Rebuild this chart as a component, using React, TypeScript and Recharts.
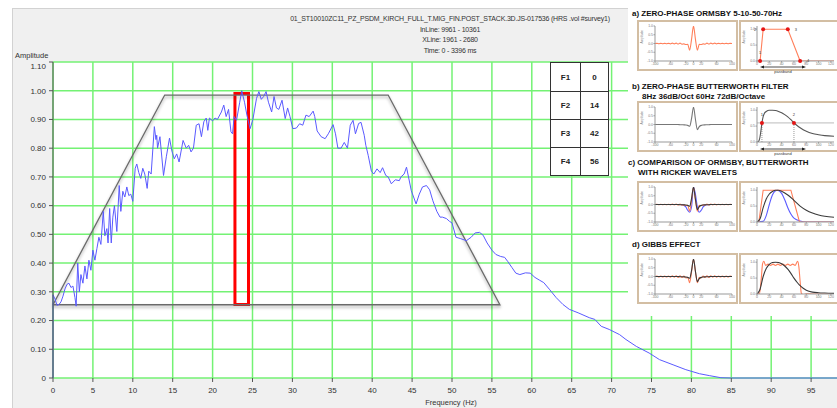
import React from "react";
import { LineChart, Line, XAxis, YAxis, CartesianGrid, ReferenceArea, ReferenceLine, ReferenceDot } from "recharts";

// amplitude spectrum (Hz / amplitude)
const freq = [
  0, 0, 0.25, 0.5, 0.75, 1, 1.25, 1.5, 1.75, 2,
  2.25, 2.5, 2.75, 2.9, 3.1, 3.3, 3.5, 3.75, 4, 4.25,
  4.5, 4.75, 5, 5.25, 5.5, 5.75, 6, 6.3, 6.5, 6.75,
  6.9, 7.1, 7.3, 7.5, 7.7, 8, 8.3, 8.5, 8.75, 9,
  9.25, 9.5, 9.75, 10, 10.3, 10.5, 10.75, 11, 11.25, 11.5,
  11.8, 12, 12.3, 12.7, 12.9, 13, 13.1, 13.4, 13.85, 14.2,
  14.6, 14.9, 15.2, 15.5, 15.8, 16.3, 16.7, 17, 17.3, 17.6,
  17.95, 18.3, 18.6, 18.9, 19.2, 19.4, 19.6, 20, 20.3, 20.6,
  21.1, 21.4, 21.7, 22, 22.3, 22.5, 22.7, 23, 23.4, 23.65,
  24, 24.3, 24.7, 25.05, 25.5, 25.8, 26.1, 26.4, 26.7, 27,
  27.4, 27.7, 28, 28.3, 28.7, 29.1, 29.4, 29.7, 30.05, 30.5,
  30.9, 31.3, 31.7, 32.1, 32.6, 32.8, 33.1, 33.6, 34.1, 34.5,
  35.1, 35.4, 35.7, 36.1, 36.5, 36.9, 37.25, 37.6, 37.9, 38.3,
  38.6, 39, 39.2, 39.5, 39.9, 40.2, 40.6, 41, 41.3, 41.7,
  42, 42.4, 42.9, 43.4, 43.6, 44, 44.3, 44.9, 45.5, 45.9,
  46.3, 46.8, 47.2, 47.6, 48.1, 48.5, 48.8, 49.3, 49.7, 50,
  50.5, 51.1, 51.8, 52.4, 52.9, 53.45, 53.9, 54.4, 55, 55.5,
  56.1, 56.6, 57, 57.5, 58, 58.5, 59.2, 59.8, 60.4, 61,
  61.5, 62.2, 63.05, 63.9, 64.7, 65.8, 67.2, 67.9, 68.7, 69.7,
  71, 71.8, 73.1, 74.7, 76, 77.7, 79.3, 81, 82.3, 83.7,
  85, 100,
];
const amp = [
  0, 0.29, 0.275, 0.253, 0.256, 0.265, 0.285, 0.31, 0.326, 0.33,
  0.315, 0.32, 0.28, 0.25, 0.4, 0.3, 0.36, 0.33, 0.39, 0.345,
  0.41, 0.375, 0.445, 0.41, 0.45, 0.49, 0.465, 0.58, 0.495, 0.52,
  0.47, 0.59, 0.47, 0.56, 0.6, 0.51, 0.67, 0.58, 0.65, 0.63,
  0.665, 0.635, 0.64, 0.615, 0.73, 0.745, 0.715, 0.695, 0.73, 0.71,
  0.66, 0.72, 0.71, 0.875, 0.83, 0.845, 0.8, 0.84, 0.705, 0.77,
  0.835, 0.79, 0.763, 0.78, 0.752, 0.827, 0.8, 0.81, 0.787, 0.8,
  0.88, 0.885, 0.84, 0.892, 0.905, 0.862, 0.905, 0.895, 0.905, 0.9,
  0.926, 0.95, 0.91, 0.935, 0.857, 0.85, 0.91, 0.897, 0.96, 1.0,
  0.96, 0.915, 0.868, 0.9, 0.973, 0.997, 0.97, 0.98, 0.997, 0.96,
  0.926, 0.98, 0.94, 0.935, 0.967, 0.903, 0.94, 0.91, 0.868, 0.87,
  0.885, 0.88, 0.915, 0.91, 0.929, 0.91, 0.86, 0.84, 0.833, 0.85,
  0.882, 0.85, 0.8, 0.8, 0.82, 0.8, 0.88, 0.897, 0.85, 0.886,
  0.89, 0.845, 0.81, 0.775, 0.72, 0.71, 0.728, 0.715, 0.732, 0.705,
  0.7, 0.676, 0.69, 0.687, 0.7, 0.71, 0.734, 0.652, 0.606, 0.64,
  0.665, 0.67, 0.655, 0.617, 0.58, 0.56, 0.56, 0.555, 0.545, 0.54,
  0.49, 0.485, 0.478, 0.49, 0.505, 0.507, 0.497, 0.47, 0.445, 0.43,
  0.423, 0.42, 0.405, 0.385, 0.365, 0.36, 0.366, 0.365, 0.35, 0.34,
  0.332, 0.309, 0.28, 0.256, 0.239, 0.227, 0.21, 0.204, 0.18, 0.169,
  0.151, 0.134, 0.11, 0.087, 0.064, 0.046, 0.029, 0.015, 0.008, 0.001,
  0, 0,
];

// trapezoid filter corners
const cornerNames = ["F1", "F2", "F3", "F4"];
const cornerHz = [0, 14, 42, 56];
const cornerAmp = [0.255, 0.985, 0.985, 0.255];

// red highlight box
const boxHz = [22.8, 24.5];
const boxAmp = [0.256, 0.99];

const xMajor = [0, 5, 10, 15, 20, 25, 30, 35, 40, 45, 50, 55, 60, 65, 70, 75, 80, 85, 90, 95, 100];
const yMajor = [0, 0.1, 0.2, 0.3, 0.4, 0.5, 0.6, 0.7, 0.8, 0.9, 1.0, 1.1];
const xMinor = Array.from({ length: 101 }, (_, i) => i);
const yMinor = Array.from({ length: 111 }, (_, i) => i / 100);

const titleLines = [
  "01_ST10010ZC11_PZ_PSDM_KIRCH_FULL_T.MIG_FIN.POST_STACK.3D.JS-017536 (HRS .vol #survey1)",
  "InLine: 9961 - 10361",
  "XLine: 1961 - 2680",
  "Time: 0 - 3396 ms",
];

// inset panels
const insetTitles = [
  ["a) ZERO-PHASE ORMSBY 5-10-50-70Hz"],
  ["b) ZERO-PHASE BUTTERWORTH FILTER", "8Hz 36dB/Oct 60Hz 72dB/Octave"],
  ["c) COMPARISON OF ORMSBY, BUTTERWORTH", "WITH RICKER WAVELETS"],
  ["d) GIBBS EFFECT"],
];

const waveT = Array.from({ length: 41 }, (_, i) => -100 + i * 5);
const ormsbyWave = [0, 0.01, -0.01, 0.01, -0.01, 0.01, -0.01, 0.01, -0.02, 0.02, -0.02, 0.02, -0.03, 0.02, -0.04, -0.02, -0.06, -0.05, -0.38, 0.25,
  1.0,
  0.25, -0.38, -0.05, -0.06, -0.02, -0.04, 0.02, -0.03, 0.02, -0.02, 0.02, -0.02, 0.01, -0.01, 0.01, -0.01, 0.01, -0.01, 0.01, 0];
const butterWave = [0, 0, 0, 0, 0, 0, 0, 0, 0, 0, 0, 0, 0, -0.01, -0.01, -0.02, -0.03, -0.05, -0.1, 0.35,
  1.0,
  0.3, -0.3, -0.12, -0.05, -0.03, -0.02, -0.01, -0.01, 0, 0, 0, 0, 0, 0, 0, 0, 0, 0, 0, 0];
const rickerWave = [0, 0, 0, 0, 0, 0, 0, 0, 0, 0, 0, 0, 0, 0, -0.01, -0.04, -0.14, -0.33, -0.44, -0.13, 0.59,
  1.0,
  0.59, -0.13, -0.44, -0.33, -0.14, -0.04, -0.01, 0, 0, 0, 0, 0, 0, 0, 0, 0, 0, 0, 0].filter((_, i) => i !== 20);
const gibbsWave = [0, 0.03, -0.03, 0.03, -0.03, 0.03, -0.03, 0.03, -0.04, 0.04, -0.04, 0.04, -0.05, 0.04, -0.06, 0.02, -0.08, -0.05, -0.35, 0.28,
  1.0,
  0.28, -0.35, -0.05, -0.08, 0.02, -0.06, 0.04, -0.05, 0.04, -0.04, 0.04, -0.04, 0.03, -0.03, 0.03, -0.03, 0.03, -0.03, 0.03, 0];

const ormsbyHz = [0, 5, 10, 50, 70, 125];
const ormsbyAmp = [0, 0, 1, 1, 0, 0];
const butterHz = [0, 2, 4, 6, 8, 10, 12, 15, 20, 25, 30, 35, 40, 45, 50, 55, 60, 65, 70, 80, 90, 100, 110, 125];
const butterAmp = [0, 0.01, 0.08, 0.3, 0.6, 0.8, 0.9, 0.96, 1.0, 1.0, 0.99, 0.96, 0.92, 0.86, 0.79, 0.7, 0.6, 0.52, 0.45, 0.34, 0.27, 0.23, 0.2, 0.18];
const butterCut = [8, 60];
const butterLevel = 0.6;

const cOrmsbyHz = [0, 3, 10, 55, 69, 125];
const cOrmsbyAmp = [0, 0, 1, 1, 0, 0];
const cButterHz = [0, 5, 10, 15, 20, 25, 30, 35, 40, 50, 60, 70, 80, 90, 100, 110, 125];
const cButterAmp = [0, 0.1, 0.45, 0.72, 0.88, 0.96, 1.0, 1.0, 0.97, 0.85, 0.68, 0.5, 0.37, 0.28, 0.22, 0.18, 0.15];
const rickerHz = [0, 10, 15, 20, 25, 30, 33, 40, 45, 50, 55, 60, 70, 80, 125];
const rickerAmp = [0, 0.02, 0.2, 0.55, 0.85, 0.98, 1.0, 0.9, 0.7, 0.45, 0.25, 0.12, 0.03, 0, 0];

const gibbsHz = [0, 4, 7, 9, 11, 14, 18, 22, 26, 30, 34, 38, 42, 46, 50, 54, 58, 62, 66, 68, 70, 72, 75, 80, 90, 125];
const gibbsAmp = [0, 0.02, 0.5, 0.95, 1.03, 0.9, 0.94, 0.9, 0.94, 0.9, 0.94, 0.9, 0.94, 0.9, 0.94, 0.9, 0.94, 0.9, 1.03, 0.85, 0.4, 0.02, -0.02, 0.01, 0, 0];
const dButterHz = [0, 5, 10, 15, 20, 25, 30, 35, 40, 45, 50, 55, 60, 65, 70, 75, 80, 90, 100, 110, 125];
const dButterAmp = [0, 0.15, 0.55, 0.8, 0.93, 0.99, 1.0, 0.99, 0.95, 0.88, 0.78, 0.65, 0.5, 0.37, 0.26, 0.18, 0.12, 0.06, 0.04, 0.03, 0.02];

const BLUE = "#5a5aff";
const GREEN = "#74f274";
const ORANGE = "#ff7f5a";
const DARK = "#3a3a3a";
const IBLUE = "#5b5bff";

const toPts = (xs: number[], ys: number[]) => xs.map((x, i) => ({ x, y: ys[i] }));

// y tick label; the top one sits a little lower, under the "Amplitude" caption
function YTick(props: any) {
  const { x, y, payload } = props;
  const v = payload.value as number;
  const label = v === 0 ? "0" : v.toFixed(2);
  return (
    <text x={x} y={y + (v > 1.05 ? 4 : 0)} dy="0.35em" textAnchor="end" fontSize={8} fill="#333">{label}</text>
  );
}

function MainChart() {
  const spectrum = freq.map((f, i) => ({ f, a: amp[i] }));
  const trap = [...cornerHz, cornerHz[0]].map((f, i) => ({ f, a: cornerAmp[i % 4] }));
  return (
    <LineChart width={870} height={408} margin={{ top: 62, right: 19, bottom: 0, left: 13 }}>
      <CartesianGrid xAxisId="main" yAxisId="main" stroke={GREEN} strokeWidth={1.5} fill="#ffffff" fillOpacity={1} />
      <XAxis xAxisId="minor" type="number" dataKey="f" domain={[0, 100]} ticks={xMinor} interval={0}
        tickFormatter={() => ""} tickSize={2.5} axisLine={false} height={0} stroke="#555" />
      <XAxis xAxisId="main" type="number" dataKey="f" domain={[0, 100]} ticks={xMajor} interval={0}
        tickSize={4} axisLine={false} height={30} stroke="#555" tick={{ fontSize: 8, fill: "#333" }} tickMargin={5} />
      <YAxis yAxisId="minor" type="number" domain={[0, 1.1]} ticks={yMinor} interval={0}
        tickFormatter={() => ""} tickSize={2} axisLine={false} width={0} stroke="#555" />
      <YAxis yAxisId="main" type="number" domain={[0, 1.1]} ticks={yMajor} interval={0} width={40}
        tickSize={4} stroke="#555" tick={<YTick />} tickMargin={3} />
      <Line xAxisId="main" yAxisId="main" className="trap" data={trap} dataKey="a" type="linear"
        stroke="#6a6a6a" strokeWidth={1.3} dot={false} activeDot={false} isAnimationActive={false} />
      <Line xAxisId="main" yAxisId="main" data={spectrum} dataKey="a" type="linear"
        stroke={BLUE} strokeWidth={1} dot={false} activeDot={false} isAnimationActive={false} />
      <ReferenceArea xAxisId="main" yAxisId="main" x1={boxHz[0]} x2={boxHz[1]} y1={boxAmp[0]} y2={boxAmp[1]}
        fill="none" fillOpacity={0} stroke="#ff0000" strokeWidth={3} />
    </LineChart>
  );
}

type Series = { pts: { x: number; y: number }[]; color: string; type?: "linear" | "monotone"; w?: number };

function Mini({ series, wave, children }: { series: Series[]; wave: boolean; children?: React.ReactNode }) {
  const tick = { fontSize: 3.5, fill: "#777" };
  return (
    <LineChart width={97} height={47} margin={{ top: 4, right: 4, bottom: 0, left: 0 }}>
      <XAxis type="number" dataKey="x" domain={wave ? [-100, 100] : [0, 125]} allowDataOverflow
        ticks={wave ? [-100, -60, -20, 0, 20, 60, 100] : [0, 20, 40, 60, 80, 100, 120]}
        interval={0} tickSize={1.5} tickMargin={0.5} height={8} stroke="#999" tick={tick} />
      <YAxis type="number" domain={wave ? [-1, 1] : [0, 1.1]} allowDataOverflow
        ticks={wave ? [-1, -0.5, 0, 0.5, 1] : [0, 0.5, 1]} interval={0}
        tickFormatter={(v: number) => v.toFixed(1)}
        tickSize={1.5} tickMargin={0.5} width={16} stroke="#999" tick={tick}
        label={{ value: "Amplitude", angle: -90, position: "insideLeft", fontSize: 3, fill: "#888", offset: 3 }} />
      {series.map((s, i) => (
        <Line key={i} data={s.pts} dataKey="y" type={s.type ?? "monotone"} stroke={s.color}
          strokeWidth={s.w ?? 1.1} dot={false} activeDot={false} isAnimationActive={false} />
      ))}
      {children}
    </LineChart>
  );
}

const frame: React.CSSProperties = {
  position: "absolute", width: 97, height: 47, border: "2px solid #d3bea3", background: "#fff",
};

const dotLabelPos = ["top", "left", "right", "right"] as const;

function Insets() {
  const rows = [20, 101, 181, 253];
  const heads = [9, 82, 158, 240];
  const lefts: Series[][] = [
    [{ pts: toPts(waveT, ormsbyWave), color: ORANGE }],
    [{ pts: toPts(waveT, butterWave), color: "#777" }],
    [
      { pts: toPts(waveT, rickerWave), color: IBLUE },
      { pts: toPts(waveT, ormsbyWave), color: ORANGE },
      { pts: toPts(waveT, butterWave), color: DARK },
    ],
    [
      { pts: toPts(waveT, gibbsWave), color: ORANGE },
      { pts: toPts(waveT, butterWave), color: DARK },
    ],
  ];
  const rights: Series[][] = [
    [{ pts: toPts(ormsbyHz, ormsbyAmp), color: ORANGE, type: "linear" }],
    [{ pts: toPts(butterHz, butterAmp), color: "#555" }],
    [
      { pts: toPts(rickerHz, rickerAmp), color: IBLUE },
      { pts: toPts(cOrmsbyHz, cOrmsbyAmp), color: ORANGE, type: "linear" },
      { pts: toPts(cButterHz, cButterAmp), color: DARK },
    ],
    [
      { pts: toPts(gibbsHz, gibbsAmp), color: ORANGE },
      { pts: toPts(dButterHz, dButterAmp), color: DARK },
    ],
  ];
  return (
    <div style={{ position: "absolute", left: 628, top: 0, width: 209, height: 316, background: "#fff" }}>
      {insetTitles.map((lines, k) =>
        lines.map((t, j) => (
          <div key={k + "-" + j} style={{
            position: "absolute", top: heads[k] + j * 10, left: (k === 2 ? 0 : 4) + j * 10,
            fontSize: 8, fontWeight: "bold", color: "#111", whiteSpace: "nowrap", lineHeight: "10px",
          }}>{t}</div>
        ))
      )}
      {rows.map((top, k) => (
        <React.Fragment key={k}>
          <div style={{ ...frame, left: 9, top }}>
            <Mini series={lefts[k]} wave />
          </div>
          <div style={{ ...frame, left: 111, top }}>
            <Mini series={rights[k]} wave={false}>
              {k === 0 && ormsbyHz.slice(1, 5).map((f, i) => (
                <ReferenceDot key={i} x={f} y={ormsbyAmp[i + 1]} r={2} fill="#e51515" stroke="none"
                  label={{ value: String(i + 1), position: dotLabelPos[i], fontSize: 4, fill: "#333" }} />
              ))}
              {k === 1 && <ReferenceLine y={butterLevel} stroke="#aaa" strokeWidth={0.8} />}
              {k === 1 && butterCut.map((f, i) => (
                <ReferenceLine key={"l" + i} segment={[{ x: f, y: 0 }, { x: f, y: butterLevel }]}
                  stroke="#555" strokeWidth={0.6} strokeDasharray="1 1" />
              ))}
              {k === 1 && butterCut.map((f, i) => (
                <ReferenceDot key={"d" + i} x={f} y={butterLevel} r={2} fill="#e51515" stroke="none"
                  label={{ value: String(i + 1), position: "top", fontSize: 4, fill: "#333" }} />
              ))}
            </Mini>
          </div>
        </React.Fragment>
      ))}
      {[67, 149].map((y, i) => (
        <svg key={i} style={{ position: "absolute", left: 130, top: y - 3 }} width={50} height={10}>
          <line x1={4} y1={3} x2={46} y2={3} stroke="#222" strokeWidth={0.8} />
          <path d="M2,3 L6,1.5 L6,4.5 Z M48,3 L44,1.5 L44,4.5 Z" fill="#222" />
          <text x={25} y={8.5} fontSize={4} textAnchor="middle" fill="#333">passband</text>
        </svg>
      ))}
    </div>
  );
}

function FilterTable() {
  return (
    <div style={{ position: "absolute", left: 550, top: 62, width: 59, background: "#fff", border: "1.5px solid #333", boxSizing: "border-box" }}>
      {cornerNames.map((n, i) => (
        <div key={n} style={{ display: "flex", height: 28, borderTop: i ? "1.5px solid #333" : "none", boxSizing: "border-box",
          fontSize: 8, fontWeight: "bold", color: "#222", alignItems: "center" }}>
          <div style={{ width: 29, height: "100%", display: "flex", alignItems: "center", justifyContent: "center", borderRight: "1.5px solid #333" }}>{n}</div>
          <div style={{ flex: 1, display: "flex", alignItems: "center", justifyContent: "center" }}>{cornerHz[i]}</div>
        </div>
      ))}
    </div>
  );
}

export default function App() {
  return (
    <div style={{ position: "fixed", left: 0, top: 0, width: 837, height: 408, overflow: "hidden", background: "#fff",
      fontFamily: "'Liberation Sans', Arial, sans-serif" }}>
      <style>{`.trap path{filter:drop-shadow(0px 2px 1.5px rgba(0,0,0,0.35));}`}</style>
      <div style={{ position: "absolute", left: 12, top: 8, right: 0, bottom: 0, background: "#f0f0f0",
        borderLeft: "1px solid #d2d2d2", borderTop: "1px solid #d2d2d2" }} />
      {titleLines.map((t, i) => (
        <div key={i} style={{ position: "absolute", left: 250, width: 400, top: 14 + i * 10.5, textAlign: "center",
          fontSize: 7, letterSpacing: -0.2, color: "#333", lineHeight: "10px", whiteSpace: "nowrap" }}>{t}</div>
      ))}
      <div style={{ position: "absolute", left: 15, top: 51, fontSize: 7.5, color: "#333", lineHeight: "10px" }}>Amplitude</div>
      <div style={{ position: "absolute", left: 391, width: 120, top: 398, textAlign: "center", fontSize: 7.5, color: "#333", lineHeight: "10px" }}>Frequency (Hz)</div>
      <div style={{ position: "absolute", left: 0, top: 0 }}>
        <MainChart />
      </div>
      <FilterTable />
      <Insets />
    </div>
  );
}
